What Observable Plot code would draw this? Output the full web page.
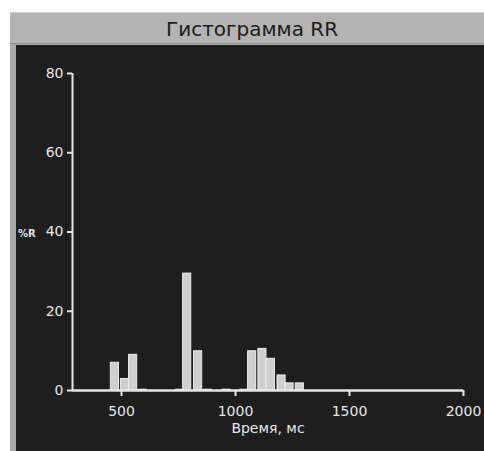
<!DOCTYPE html>
<html>
<head>
<meta charset="utf-8">
<script src="https://cdn.jsdelivr.net/npm/d3@7"></script>
<script src="https://cdn.jsdelivr.net/npm/@observablehq/plot@0.6"></script>
<style>
  html, body { margin: 0; padding: 0; background: #ffffff; width: 484px; height: 451px; overflow: hidden; }
  #frame { position: absolute; left: 10px; top: 12px; width: 474px; height: 439px; background: #a9a9a9; }
  #title { position: absolute; left: 0; top: 0; width: 474px; height: 32px; background: #b3b3b3;
           border-top: 1px solid #d0d0d0; box-sizing: border-box; border-bottom: 1px solid #8a8a8a;
           font-family: "DejaVu Sans", sans-serif; font-size: 20px; color: #1c1c1c;
           text-align: center; line-height: 33px; padding-left: 10px; }
  #dark { position: absolute; left: 6px; top: 33px; width: 468px; height: 406px; background: #1e1e1e; }
  #ylab { position: absolute; left: 2px; top: 183px; font-family: "DejaVu Sans", sans-serif; font-size: 10px; font-weight: bold; color: #e0e0e0; }
</style>
</head>
<body>
<div id="frame">
  <div id="title">Гистограмма RR</div>
  <div id="dark"><div id="ylab">%R</div></div>
</div>
<script>
const binLo = [451, 495, 531, 574, 738, 768, 816, 858, 941, 1020, 1053, 1098, 1135, 1182, 1217, 1262];
const counts = [7, 2.9, 9, 0.2, 0.2, 29.5, 9.9, 0.2, 0.2, 0.2, 9.9, 10.5, 8, 3.8, 1.8, 1.8];
const binWidth = 40;
const xTicks = [500, 1000, 1500, 2000];
const yTicks = [0, 20, 40, 60, 80];
const xLabel = "Время, мс";

const data = binLo.map((lo, i) => ({lo, hi: lo + binWidth, n: counts[i]}));

const fg = "#e6e6e6";
const chart = Plot.plot({
  width: 468,
  height: 406,
  marginLeft: 56,
  marginRight: 21,
  marginTop: 28,
  marginBottom: 61,
  style: {background: "transparent", color: fg, fontFamily: "DejaVu Sans, sans-serif", fontSize: "14px"},
  x: {domain: [285, 2000]},
  y: {domain: [0, 80]},
  marks: [
    Plot.rectY(data, {x1: "lo", x2: "hi", y: "n", fill: "#cfcfcf", stroke: "#ededed", strokeWidth: 1, insetLeft: 0.5, insetRight: 0.5}),
    Plot.axisX({ticks: xTicks, tickFormat: d => String(d), tickSize: 6, tickPadding: 10, label: null, stroke: fg, strokeWidth: 2, fill: fg}),
    Plot.axisY({ticks: yTicks, tickFormat: d => String(d), tickSize: 5, tickPadding: 4, label: null, stroke: fg, strokeWidth: 2, fill: fg}),
    Plot.ruleY([0], {stroke: fg, strokeWidth: 2.5}),
    Plot.ruleX([285], {stroke: fg, strokeWidth: 2}),
    Plot.text([xLabel], {text: d => d, frameAnchor: "bottom", dy: 42, fill: fg, fontSize: 14})
  ]
});
document.getElementById("dark").appendChild(chart);
</script>
</body>
</html>
